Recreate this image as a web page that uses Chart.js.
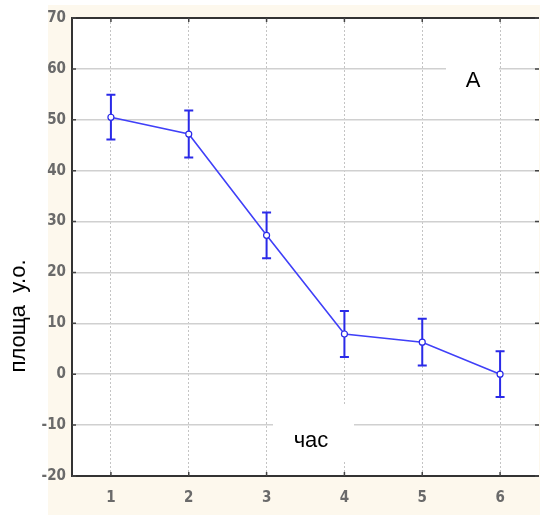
<!DOCTYPE html>
<html>
<head>
<meta charset="utf-8">
<script src="https://cdn.jsdelivr.net/npm/chart.js@4"></script>
<style>
  html, body { margin: 0; padding: 0; background: #fff; }
  #wrap { width: 540px; height: 515px; }
</style>
</head>
<body>
<div id="wrap"><canvas id="areaChart" width="540" height="515"></canvas></div>
<script>
// values
const hours = ['1', '2', '3', '4', '5', '6'];
const area = [50.5, 47.2, 27.3, 7.9, 6.3, 0.0];
const areaErr = [4.4, 4.6, 4.5, 4.5, 4.6, 4.5];
const yMin = -20, yMax = 70, yStep = 10;

const yTitle = 'площа  у.о.';
const xTitle = 'час';
const panelLabel = 'А';

const tickFont = { family: "'Liberation Sans Narrow', 'Arial Narrow', 'DejaVu Sans Condensed', sans-serif", size: 15, weight: 'bold' };
const textFont = "22px 'Liberation Sans', Arial, sans-serif";

const framePlugin = {
    id: 'framePlugin',
    beforeDraw(chart) {
        const ctx = chart.ctx;
        ctx.save();
        ctx.fillStyle = '#ffffff';
        ctx.fillRect(0, 0, chart.width, chart.height);
        ctx.fillStyle = '#fdf8ed';
        ctx.fillRect(48, 5, chart.width - 48, chart.height - 5);
        const a = chart.chartArea;
        ctx.fillStyle = '#ffffff';
        ctx.fillRect(a.left, a.top, a.right - a.left, a.bottom - a.top);
        ctx.restore();
    },
    beforeDatasetsDraw(chart) {
        const ctx = chart.ctx;
        const a = chart.chartArea;
        ctx.save();
        // white patches behind the labels
        ctx.fillStyle = '#ffffff';
        ctx.fillRect(446, 64, 53, 34);
        ctx.fillRect(273, 405, 81, 57);
        ctx.fillStyle = '#000';
        ctx.font = textFont;
        ctx.textAlign = 'center';
        ctx.textBaseline = 'middle';
        ctx.fillText(panelLabel, 473, 81);
        ctx.fillText(xTitle, 311, 441);

        // frame and inner ticks
        ctx.strokeStyle = '#333';
        ctx.lineWidth = 2;
        ctx.beginPath();
        ctx.moveTo(a.right, a.top);
        ctx.lineTo(a.left, a.top);
        ctx.lineTo(a.left, a.bottom);
        ctx.lineTo(a.right, a.bottom);
        ctx.stroke();
        ctx.lineWidth = 1.5;
        ctx.strokeStyle = '#444';
        const ys = chart.scales.y, xs = chart.scales.x;
        ctx.beginPath();
        ys.ticks.forEach((t, i) => {
            const py = ys.getPixelForTick(i);
            ctx.moveTo(a.left, py); ctx.lineTo(a.left + 4, py);
            ctx.moveTo(a.right, py); ctx.lineTo(a.right - 4, py);
        });
        xs.ticks.forEach((t, i) => {
            const px = xs.getPixelForTick(i);
            ctx.moveTo(px, a.bottom); ctx.lineTo(px, a.bottom - 4);
            ctx.moveTo(px, a.top); ctx.lineTo(px, a.top + 4);
        });
        ctx.stroke();
        ctx.restore();
    },
    afterDatasetsDraw(chart) {
        const ctx = chart.ctx;
        const xs = chart.scales.x, ys = chart.scales.y;
        ctx.save();
        ctx.strokeStyle = '#2a2ae8';
        ctx.lineWidth = 2;
        area.forEach((v, i) => {
            const px = xs.getPixelForValue(i);
            const top = ys.getPixelForValue(v + areaErr[i]);
            const bot = ys.getPixelForValue(v - areaErr[i]);
            ctx.beginPath();
            ctx.moveTo(px, top); ctx.lineTo(px, bot);
            ctx.moveTo(px - 4.5, top); ctx.lineTo(px + 4.5, top);
            ctx.moveTo(px - 4.5, bot); ctx.lineTo(px + 4.5, bot);
            ctx.stroke();
        });
        // redraw the hollow markers on top
        const meta = chart.getDatasetMeta(0);
        ctx.lineWidth = 1.2;
        ctx.fillStyle = '#fff';
        meta.data.forEach(p => {
            ctx.beginPath();
            ctx.arc(p.x, p.y, 3, 0, Math.PI * 2);
            ctx.fill();
            ctx.stroke();
        });
        ctx.restore();
    },
    afterDraw(chart) {
        const ctx = chart.ctx;
        ctx.save();
        ctx.translate(19, 316);
        ctx.rotate(-Math.PI / 2);
        ctx.font = textFont;
        ctx.fillStyle = '#000';
        ctx.textAlign = 'center';
        ctx.textBaseline = 'middle';
        ctx.fillText(yTitle, 0, 0);
        ctx.restore();
    }
};

const ctx = document.getElementById('areaChart').getContext('2d');
new Chart(ctx, {
    type: 'line',
    data: {
        labels: hours,
        datasets: [{
            data: area,
            borderColor: '#4040f8',
            borderWidth: 1.6,
            pointRadius: 0,
            tension: 0,
            fill: false
        }]
    },
    options: {
        responsive: false,
        animation: false,
        layout: { padding: { left: 0, top: 18, right: 1, bottom: 0 } },
        plugins: {
            legend: { display: false },
            tooltip: { enabled: false },
            title: { display: false }
        },
        scales: {
            x: {
                type: 'category',
                offset: true,
                grid: { color: '#c4c4c4', lineWidth: 1, drawTicks: false, offset: false },
                border: { display: false, dash: [2, 2] },
                ticks: { color: '#6a6a6a', font: tickFont, padding: 13, maxRotation: 0 },
                afterFit(scale) { scale.height = 39; }
            },
            y: {
                min: yMin,
                max: yMax,
                grid: { color: '#d0d0d0', lineWidth: 1.5, drawTicks: false },
                border: { display: false },
                ticks: { stepSize: yStep, color: '#6a6a6a', font: tickFont, padding: 6 },
                afterFit(scale) { scale.width = 72; }
            }
        }
    },
    plugins: [framePlugin]
});
</script>
</body>
</html>
